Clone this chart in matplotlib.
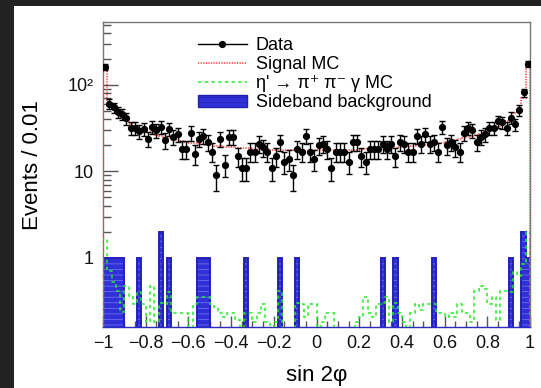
import matplotlib
matplotlib.use("Agg")
import matplotlib.pyplot as plt
import numpy as np
from matplotlib.lines import Line2D
from matplotlib.patches import Patch
from matplotlib.ticker import FixedLocator, FixedFormatter, MultipleLocator

plt.rcParams['font.family'] = ['Liberation Sans', 'DejaVu Sans']
plt.rcParams['hatch.linewidth'] = 0.5

# 100 bins over sin 2phi in [-1, 1]
edges = np.linspace(-1, 1, 101)

data = [160, 61, 55, 49, 46, 41, 32, 32, 29, 31,
        24, 33, 30, 33, 23, 31, 25, 27, 18, 18,
        28, 16, 24, 26, 22, 17, 9, 24, 12, 25,
        25, 15, 11, 11, 17, 17, 21, 19, 17, 11,
        15, 22, 13, 14, 9, 18, 17, 26, 17, 14,
        20, 21, 18, 11, 17, 17, 17, 13, 22, 22,
        15, 13, 18, 18, 18, 21, 18, 21, 15, 22,
        21, 17, 17, 26, 21, 27, 21, 22, 17, 33,
        20, 22, 19, 17, 28, 32, 30, 22, 25, 27,
        32, 32, 38, 37, 32, 42, 35, 51, 82, 175]

signal_mc = [160, 64, 52, 46, 41.5, 38, 35.2, 33.1, 31.2, 30.1,
             28.4, 27.6, 26.3, 25.8, 24.9, 24.3, 23.5, 23.1, 22.4, 22.2,
             21.6, 21.4, 20.9, 20.8, 20.3, 20.2, 19.8, 19.7, 19.3, 19.3,
             19.0, 18.8, 18.8, 18.5, 18.5, 18.2, 18.3, 18.0, 18.1, 17.8,
             17.9, 17.7, 17.8, 17.6, 17.7, 17.5, 17.6, 17.4, 17.6, 17.5,
             17.5, 17.6, 17.4, 17.6, 17.5, 17.7, 17.6, 17.8, 17.7, 17.9,
             17.8, 18.1, 18.0, 18.2, 18.3, 18.5, 18.4, 18.7, 18.9, 19.0,
             19.2, 19.4, 19.5, 19.8, 20.0, 20.3, 20.6, 20.9, 21.3, 21.6,
             22.0, 22.5, 22.9, 23.5, 24.1, 24.8, 25.6, 26.5, 27.3, 28.5,
             29.8, 31.3, 33.0, 35.3, 38.2, 42.0, 47.0, 54.0, 70.0, 170.0]

etap_mc = [1.65, 0.7, 0.53, 0.42, 0.24, 0.47, 0.35, 0.29, 0.4, 0.29,
           0.18, 0.47, 0.18, 0.3, 0.29, 0.4, 0.23, 0.23, 0.23, 0.23,
           0, 0.29, 0.35, 0.35, 0.35, 0.29, 0.27, 0.23, 0.21, 0.23,
           0.23, 0.19, 0, 0.23, 0.23, 0.18, 0.23, 0.29, 0.18, 0,
           0.18, 0.42, 0, 0, 0, 0.3, 0.29, 0.21, 0.29, 0.29,
           0, 0.18, 0.23, 0.23, 0, 0, 0, 0, 0, 0.18,
           0.21, 0.35, 0.23, 0.21, 0.29, 0.3, 0.35, 0.18, 0.3, 0.23,
           0.18, 0, 0.23, 0.29, 0.25, 0.29, 0.29, 0.29, 0.23, 0.23,
           0.21, 0.23, 0.21, 0.29, 0.23, 0.23, 0.18, 0.42, 0.47, 0.44,
           0.29, 0.35, 0.19, 0.42, 0.42, 0.4, 0.69, 0.62, 0.85, 2.0]

sideband = [1, 1, 1, 1, 1, 0, 0, 0, 1, 0,
            0, 0, 0, 2, 0, 1, 0, 0, 0, 0,
            0, 0, 1, 1, 1, 0, 0, 0, 0, 0,
            0, 0, 0, 1, 0, 0, 0, 0, 0, 0,
            0, 1, 0, 0, 0, 1, 0, 0, 0, 0,
            0, 0, 0, 0, 0, 0, 0, 0, 0, 0,
            0, 0, 0, 0, 0, 1, 0, 0, 1, 0,
            0, 0, 0, 0, 0, 0, 0, 1, 0, 0,
            0, 0, 0, 0, 0, 0, 0, 0, 0, 0,
            0, 0, 0, 0, 0, 1, 0, 0, 2, 1]

xticks = [-1, -0.8, -0.6, -0.4, -0.2, 0, 0.2, 0.4, 0.6, 0.8, 1]
xticklabels = ['\u22121', '\u22120.8', '\u22120.6', '\u22120.4', '\u22120.2',
               '0', '0.2', '0.4', '0.6', '0.8', '1']
yticks = [1, 10, 100]
yticklabels = ['1', '10', '10\u00b2']

centers = 0.5 * (edges[:-1] + edges[1:])
data = np.array(data, dtype=float)
floor = 1e-3
bkg = np.where(np.array(sideband) > 0, sideband, floor)
etap = np.where(np.array(etap_mc) > 0, etap_mc, floor)

fig = plt.figure(figsize=(5.41, 3.88), dpi=100, facecolor='#222222')
fig.patches.append(plt.Rectangle((14 / 541, 0), 1, 1 - 6 / 388, transform=fig.transFigure,
                                 facecolor='white', edgecolor='none', zorder=-10))
ax = fig.add_axes([103 / 541, 1 - 327 / 388, 427 / 541, 305 / 388])
ax.set_yscale('log')

ax.stairs(bkg, edges, baseline=floor, fill=True, facecolor='#3030d8',
          edgecolor='#7a7af0', hatch='---', linewidth=0, zorder=2)
ax.stairs(bkg, edges, baseline=floor, color='#2222b0', linewidth=1.4, zorder=2.1)
ax.stairs(etap, edges, baseline=floor, color='#22ee22', linewidth=1.1,
          linestyle=(0, (2.2, 2.2)), zorder=3)
ax.stairs(signal_mc, edges, baseline=floor, color='#ff3030', linewidth=1.1,
          linestyle=(0, (0.8, 0.9)), zorder=4)
ax.errorbar(centers, data, yerr=np.sqrt(data), fmt='o', color='black', ms=4.2,
            elinewidth=1.0, capsize=2.0, capthick=1.0, zorder=5)

ax.set_xlim(-1, 1)
ax.set_ylim(0.159, 535)

for s in ax.spines.values():
    s.set_color('#777777')
    s.set_linewidth(1.0)
ax.spines['bottom'].set_color('#2a2ac0')

ax.xaxis.set_major_locator(FixedLocator(xticks))
ax.xaxis.set_major_formatter(FixedFormatter(xticklabels))
ax.xaxis.set_minor_locator(MultipleLocator(0.05))
ax.yaxis.set_major_locator(FixedLocator(yticks))
ax.yaxis.set_major_formatter(FixedFormatter(yticklabels))
ax.tick_params(axis='both', which='both', direction='in', color='#555555',
               top=False, right=False, labelsize=13, labelcolor='#111111')
ax.tick_params(axis='y', which='major', length=11, width=1, pad=7)
ax.tick_params(axis='y', which='minor', length=6, width=1)
ax.tick_params(axis='x', which='major', length=8, width=1, pad=6)
ax.tick_params(axis='x', which='minor', length=4, width=1)

ax.set_xlabel('sin 2\u03c6', fontsize=16, labelpad=9)
ax.set_ylabel('Events / 0.01', fontsize=16)
ax.yaxis.set_label_coords(-0.14, 0.53)

handles = [
    Line2D([], [], color='black', marker='o', ms=4.2, lw=1.0),
    Line2D([], [], color='#ff3030', lw=1.1, linestyle=(0, (0.8, 0.9))),
    Line2D([], [], color='#22ee22', lw=1.1, linestyle=(0, (2.2, 2.2))),
    Patch(facecolor='#3030d8', edgecolor='#2222b0', hatch='---', lw=1.0),
]
labels = ['Data', 'Signal MC', "\u03b7' \u2192 \u03c0\u207a \u03c0\u207b \u03b3 MC",
          'Sideband background']
ax.legend(handles, labels, loc='upper left', bbox_to_anchor=(0.205, 0.975),
          frameon=False, fontsize=13, handlelength=2.7, handletextpad=0.5,
          labelspacing=0.12, borderaxespad=0)

fig.savefig('out.png', dpi=100, facecolor=fig.get_facecolor())
